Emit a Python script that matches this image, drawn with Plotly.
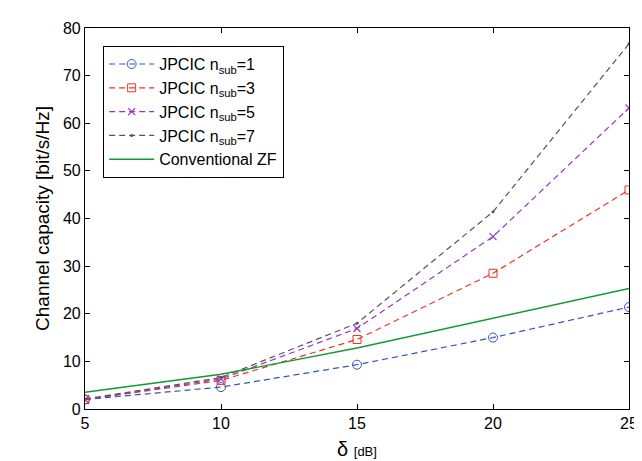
import plotly.graph_objects as go

# delta in dB
delta = [5, 10, 15, 20, 25]

cap_n1 = [2.0, 4.6, 9.3, 15.0, 21.4]
cap_n3 = [2.0, 6.0, 14.6, 28.5, 46.0]
cap_n5 = [2.0, 6.3, 16.9, 36.2, 63.2]
cap_n7 = [2.1, 6.6, 18.0, 41.4, 76.7]
cap_zf = [3.5, 7.3, 12.8, 19.1, 25.3]

x_ticks = [5, 10, 15, 20, 25]
y_ticks = [0, 10, 20, 30, 40, 50, 60, 70, 80]

DASH = "6px,4px"

fig = go.Figure()

fig.add_trace(go.Scatter(x=delta, y=cap_n1, mode="lines+markers",
                         name="JPCIC n<sub>sub</sub>=1",
                         line=dict(color="#3355bb", width=1.2, dash=DASH),
                         marker=dict(symbol="circle-open", size=9, color="#3355bb")))
fig.add_trace(go.Scatter(x=delta, y=cap_n3, mode="lines+markers",
                         name="JPCIC n<sub>sub</sub>=3",
                         line=dict(color="#ee3322", width=1.2, dash=DASH),
                         marker=dict(symbol="square-open", size=8, color="#ee3322")))
fig.add_trace(go.Scatter(x=delta, y=cap_n5, mode="lines+markers",
                         name="JPCIC n<sub>sub</sub>=5",
                         line=dict(color="#9933cc", width=1.2, dash=DASH),
                         marker=dict(symbol="x-thin-open", size=7, color="#9933cc",
                                     line=dict(width=1.2, color="#9933cc"))))
fig.add_trace(go.Scatter(x=delta, y=cap_n7, mode="lines+markers",
                         name="JPCIC n<sub>sub</sub>=7",
                         line=dict(color="#555555", width=1.2, dash=DASH),
                         marker=dict(symbol="circle", size=3, color="#555555")))
fig.add_trace(go.Scatter(x=delta, y=cap_zf, mode="lines",
                         name="Conventional ZF",
                         line=dict(color="#119933", width=1.4)))

axis_style = dict(showline=True, linecolor="black", linewidth=1.2, mirror="ticks",
                  ticks="inside", ticklen=5, tickcolor="black", showgrid=False,
                  zeroline=False, tickfont=dict(size=16, color="black"))

fig.update_xaxes(range=[5, 25], tickvals=x_ticks,
                 title=dict(text="δ <span style='font-size:13px'>[dB]</span>",
                            font=dict(size=20, color="black"), standoff=10),
                 **axis_style)
fig.update_yaxes(range=[0, 80], tickvals=y_ticks,
                 title=dict(text="Channel capacity [bit/s/Hz]",
                            font=dict(size=19, color="black"), standoff=8),
                 **axis_style)

fig.update_layout(
    width=642, height=461,
    margin=dict(l=77, r=18, t=15, b=60),
    plot_bgcolor="white", paper_bgcolor="white",
    font=dict(family="Liberation Sans, Arial", color="black"),
    legend=dict(x=0.033, y=0.953, xanchor="left", yanchor="top",
                bgcolor="white", bordercolor="black", borderwidth=1.2,
                font=dict(size=16), tracegroupgap=0, itemwidth=45),
)

fig.write_html("out.html")
